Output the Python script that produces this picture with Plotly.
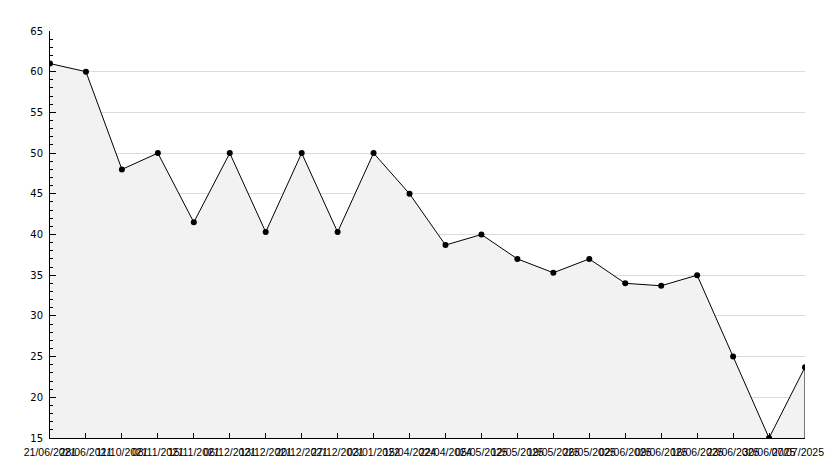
import plotly.graph_objects as go

dates = ["21/06/2021", "28/06/2021", "11/10/2021", "08/11/2021", "15/11/2021",
         "06/12/2021", "13/12/2021", "20/12/2021", "27/12/2021", "03/01/2022",
         "15/04/2024", "22/04/2024", "05/05/2025", "12/05/2025", "19/05/2025",
         "26/05/2025", "02/06/2025", "09/06/2025", "16/06/2025", "23/06/2025",
         "30/06/2025", "07/07/2025"]
values = [61, 60, 48, 50, 41.5, 50, 40.3, 50, 40.3, 50, 45, 38.7, 40, 37, 35.3,
          37, 34, 33.7, 35, 25, 15, 23.7]
y_ticks = [15, 20, 25, 30, 35, 40, 45, 50, 55, 60, 65]

idx = list(range(len(dates)))
ymin, ymax = y_ticks[0], y_ticks[-1]
# pad the last label so it stays inside the window (it sits at the right edge)
tick_text = dates[:-1] + [dates[-1] + "\u00a0" * 5]

fig = go.Figure()
fig.add_trace(go.Scatter(
    x=idx, y=values, mode="lines", fill="tozeroy", fillcolor="#f2f2f2",
    line=dict(color="rgba(0,0,0,0)", width=0), hoverinfo="skip", showlegend=False))
fig.add_trace(go.Scatter(
    x=idx, y=values, mode="lines+markers",
    line=dict(color="black", width=1),
    marker=dict(symbol="circle", size=6, color="black"),
    showlegend=False))

fig.add_shape(type="line", xref="x", yref="y", x0=idx[-1], x1=idx[-1],
              y0=ymin, y1=values[-1], line=dict(color="black", width=1))

xfont = dict(family="Liberation Sans", size=10.5, color="black")
yfont = dict(family="DejaVu Sans", size=10, color="black")
fig.update_layout(
    width=826, height=452,
    margin=dict(l=42, r=29, t=23, b=22, autoexpand=False),
    paper_bgcolor="white", plot_bgcolor="white",
    font=yfont,
    xaxis=dict(range=[0, len(dates) - 1], tickvals=idx, ticktext=tick_text,
               tickangle=0, ticks="inside", ticklen=5, tickcolor="black",
               showline=True, linecolor="black", linewidth=1,
               showgrid=False, zeroline=False, tickfont=xfont,
               ticklabelstandoff=4, automargin=False,
               ticklabeloverflow="allow"),
    yaxis=dict(range=[ymin, ymax], tickvals=y_ticks, ticks="inside", ticklen=6,
               tickcolor="black", showline=True, linecolor="black", linewidth=1,
               showgrid=True, gridcolor="#dcdcdc", gridwidth=1, zeroline=False,
               tickfont=yfont, ticklabelstandoff=4, automargin=False,
               minor=dict(dtick=1, ticks="inside", ticklen=3, tickcolor="black",
                          showgrid=False)),
)

fig.write_html("out.html")
